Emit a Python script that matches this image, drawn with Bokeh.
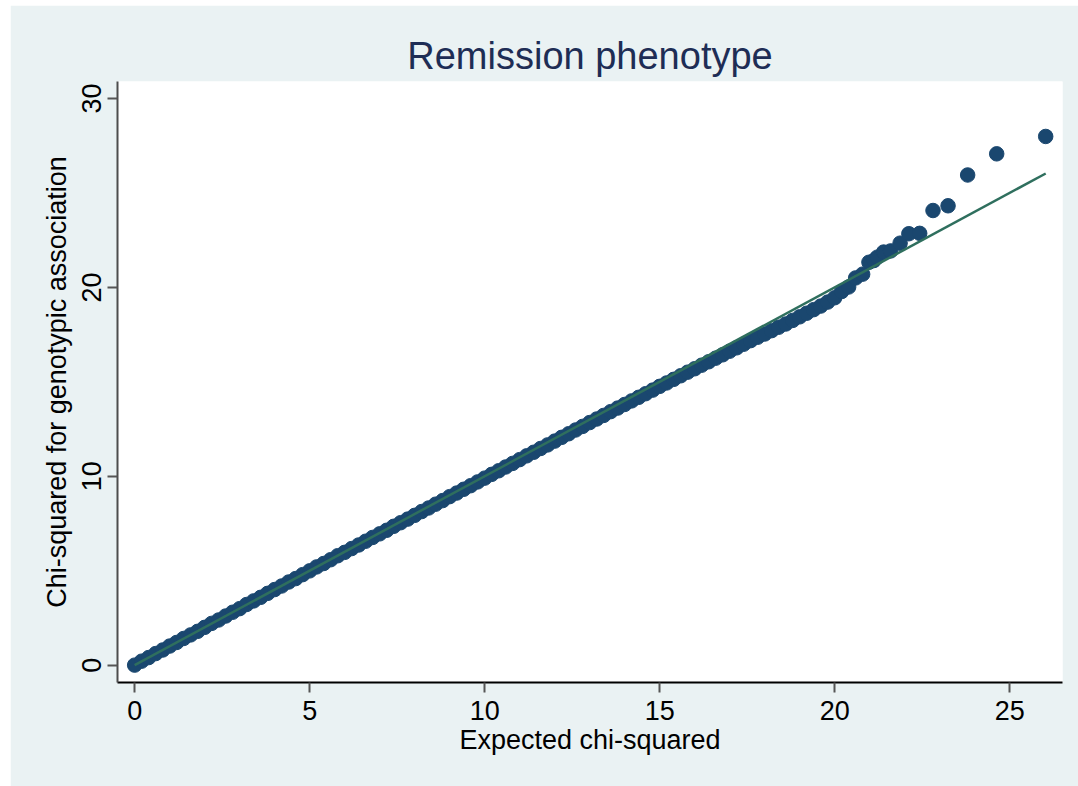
from bokeh.plotting import figure
from bokeh.models import Range1d, FixedTicker, ColumnDataSource
from bokeh.embed import file_html
from bokeh.resources import INLINE

# Quantile-quantile data: expected vs observed chi-squared statistics
expected = [
    0.0, 0.2, 0.4, 0.6, 0.8, 1.0, 1.2, 1.4, 1.6, 1.8,
    2.0, 2.2, 2.4, 2.6, 2.8, 3.0, 3.2, 3.4, 3.6, 3.8,
    4.0, 4.2, 4.4, 4.6, 4.8, 5.0, 5.2, 5.4, 5.6, 5.8,
    6.0, 6.2, 6.4, 6.6, 6.8, 7.0, 7.2, 7.4, 7.6, 7.8,
    8.0, 8.2, 8.4, 8.6, 8.8, 9.0, 9.2, 9.4, 9.6, 9.8,
    10.0, 10.2, 10.4, 10.6, 10.8, 11.0, 11.2, 11.4, 11.6, 11.8,
    12.0, 12.2, 12.4, 12.6, 12.8, 13.0, 13.2, 13.4, 13.6, 13.8,
    14.0, 14.2, 14.4, 14.6, 14.8, 15.0, 15.2, 15.4, 15.6, 15.8,
    16.0, 16.2, 16.4, 16.6, 16.8, 17.0, 17.2, 17.4, 17.6, 17.8,
    18.0, 18.2, 18.4, 18.6, 18.8, 19.0, 19.2, 19.4, 19.6, 19.8,
    20.0, 20.2, 20.4, 20.6, 20.8, 20.98, 21.12, 21.22, 21.4, 21.6,
    21.87, 22.12, 22.43, 22.81, 23.24, 23.8, 24.63, 26.03,
]
observed = [
    0.00, 0.21, 0.40, 0.61, 0.80, 1.01, 1.20, 1.41, 1.60, 1.79,
    2.00, 2.21, 2.39, 2.60, 2.80, 2.99, 3.21, 3.40, 3.59, 3.80,
    4.00, 4.19, 4.40, 4.58, 4.79, 4.99, 5.20, 5.38, 5.58, 5.79,
    5.97, 6.17, 6.36, 6.56, 6.76, 6.95, 7.14, 7.35, 7.54, 7.73,
    7.93, 8.13, 8.32, 8.52, 8.71, 8.92, 9.11, 9.31, 9.50, 9.70,
    9.90, 10.10, 10.29, 10.49, 10.68, 10.88, 11.08, 11.27, 11.47, 11.66,
    11.86, 12.06, 12.25, 12.45, 12.64, 12.84, 13.03, 13.22, 13.42, 13.61,
    13.80, 13.99, 14.18, 14.37, 14.56, 14.76, 14.94, 15.13, 15.32, 15.51,
    15.69, 15.88, 16.06, 16.25, 16.43, 16.62, 16.80, 16.99, 17.18, 17.36,
    17.53, 17.71, 17.89, 18.06, 18.25, 18.44, 18.63, 18.82, 19.01, 19.22,
    19.45, 19.78, 20.02, 20.50, 20.70, 21.33, 21.42, 21.60, 21.87, 21.93,
    22.34, 22.84, 22.86, 24.07, 24.32, 25.95, 27.07, 27.99,
]

# Reference line y = x over the range of expected values
ref_x = [0.0, 26.03]
ref_y = [0.0, 26.03]

x_ticks = [0, 5, 10, 15, 20, 25]
y_ticks = [0, 10, 20, 30]

FONT = "Liberation Sans"
BG = "#EAF2F3"
NAVY = "#1A476F"
GREEN = "#2F6F5E"

p = figure(
    width=1071, height=784,
    x_range=Range1d(-0.49, 26.51), y_range=Range1d(-0.92, 30.9),
    output_backend="svg", toolbar_location=None,
    min_border_left=107, min_border_right=19,
    min_border_top=76, min_border_bottom=107,
    background_fill_color="white", border_fill_color=BG,
    outline_line_color=None,
)
p.margin = (5, 0, 0, 10)

p.title.text = "Remission phenotype"
p.title.align = "center"
p.title.text_font = FONT
p.title.text_font_size = "38px"
p.title.text_font_style = "normal"
p.title.text_color = "#1E2D55"
p.title.standoff = 9

p.xgrid.visible = False
p.ygrid.visible = False

src = ColumnDataSource(dict(x=expected, y=observed))
p.scatter("x", "y", source=src, size=14.5, fill_color=NAVY, line_color=NAVY)
p.line(ref_x, ref_y, line_color=GREEN, line_width=2.5)

xa = p.xaxis[0]
xa.ticker = FixedTicker(ticks=x_ticks)
xa.axis_label = "Expected chi-squared"
xa.axis_line_color = "black"
xa.axis_line_width = 2

ya = p.yaxis[0]
ya.ticker = FixedTicker(ticks=y_ticks)
ya.axis_label = "Chi-squared for genotypic association"
ya.major_label_orientation = "vertical"
ya.axis_line_color = "#4D4D4D"
ya.axis_line_width = 2

for ax in (xa, ya):
    ax.major_tick_out = 10
    ax.major_tick_in = 0
    ax.major_tick_line_color = "#555555"
    ax.major_tick_line_width = 2
    ax.minor_tick_line_color = None
    ax.major_label_text_font = FONT
    ax.major_label_text_font_size = "27px"
    ax.major_label_text_color = "black"
    ax.axis_label_text_font = FONT
    ax.axis_label_text_font_size = "27px"
    ax.axis_label_text_font_style = "normal"
    ax.axis_label_text_color = "black"

xa.major_label_standoff = 8
xa.axis_label_standoff = 2
ya.major_label_standoff = 6
ya.axis_label_standoff = 8

open("out.html", "w").write(file_html(p, INLINE))
